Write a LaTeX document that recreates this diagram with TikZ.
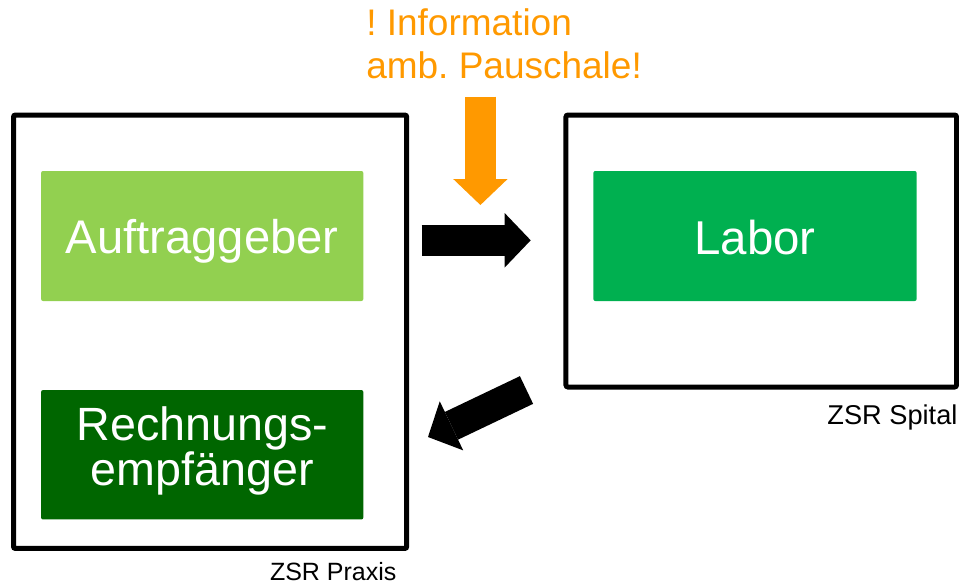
\documentclass[tikz,border=0pt]{standalone}
\usepackage{fontspec}
\setmainfont{Liberation Sans}
\usetikzlibrary{arrows.meta}
\frenchspacing
\definecolor{gruenhell}{RGB}{146,208,80}
\definecolor{gruenlabor}{RGB}{0,176,80}
\definecolor{gruendunkel}{RGB}{0,102,0}
\definecolor{orangeinfo}{RGB}{255,153,0}
\tikzset{
  zsrrahmen/.style={draw=black,line width=3.75pt,rounded corners=1.5pt,inner sep=0pt},
  rolle/.style={rounded corners=1.5pt,inner sep=0pt,text=white,align=center},
  blockpfeil/.style={line width=23pt,-{Triangle[length=19.5pt,width=40.8pt,line width=0pt]}},
}

\begin{document}
\begin{tikzpicture}[x=0.75pt,y=0.75pt,yscale=-1,xscale=1]
	\useasboundingbox (0,0) rectangle (959,585);
	% Rahmen
	\node [zsrrahmen,minimum width=294.9pt,minimum height=325.1pt] (praxis) at (210.1,331.75) {};
	\node [zsrrahmen,minimum width=292.9pt,minimum height=204pt] (spital) at (761.25,251) {};
	% Rollen
	\node [rolle,fill=gruenhell,minimum width=241.7pt,minimum height=97.5pt,text height=25.95pt,text depth=0pt,font=\fontsize{35.4}{40}\selectfont] (auftrag) at (202.2,236) {Auftraggeber};
	\node [rolle,fill=gruendunkel,minimum width=241.7pt,minimum height=97.1pt,text height=45.4pt,text depth=0pt,font=\fontsize{35}{32.5}\selectfont] (rechnung) at (202.2,454.75) {Rechnungs-\\empfänger};
	\node [rolle,fill=gruenlabor,minimum width=242.5pt,minimum height=97.5pt,text height=27pt,text depth=0pt,font=\fontsize{35.6}{40}\selectfont] (labor) at (755,236) {Labor};
	% Beschriftungen
	\draw (396.7,580) node [anchor=base east][inner sep=0pt,font=\fontsize{18.75}{22}\selectfont] (praxislabel) {ZSR Praxis};
	\draw (957.7,424.3) node [anchor=base east][inner sep=0pt,font=\fontsize{20.4}{24}\selectfont] (spitallabel) {ZSR Spital};
	\draw (366,79) node [anchor=base west][inner sep=0pt,align=left,text=orangeinfo,font=\fontsize{27.75}{32.25}\selectfont] (info) {! Information\\amb. Pauschale!};
	% Pfeile
	\coordinate (infostart) at (480.4,96.7);
	\coordinate (infoziel) at (480.4,205);
	\coordinate (hinstart) at (421.7,240.3);
	\coordinate (hinziel) at (530.7,240.3);
	\coordinate (rueckstart) at (526.5,390);
	\coordinate (rueckziel) at (428,437);
	\draw [blockpfeil,orangeinfo] (infostart) -- (infoziel);
	\draw [blockpfeil,black] (hinstart) -- (hinziel);
	\draw [blockpfeil,black] (rueckstart) -- (rueckziel);
\end{tikzpicture}
\end{document}
